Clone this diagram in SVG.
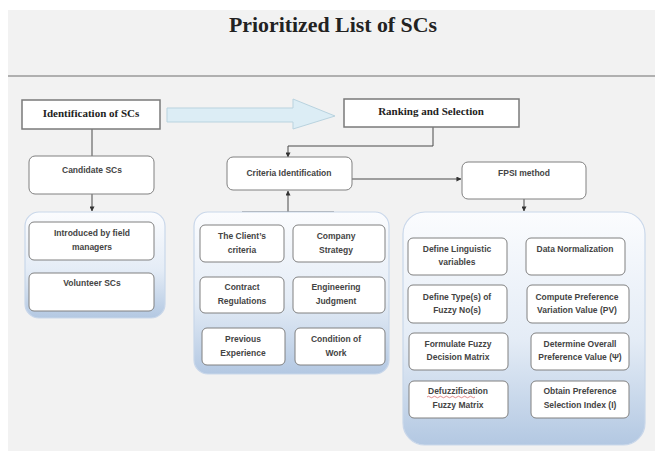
<svg xmlns="http://www.w3.org/2000/svg" width="655" height="455" viewBox="0 0 655 455">
<defs>
<linearGradient id="cg" x1="0" y1="0" x2="0" y2="1">
<stop offset="0" stop-color="#fbfcfe"/>
<stop offset="0.55" stop-color="#e4ecf6"/>
<stop offset="1" stop-color="#b3c8e2"/>
</linearGradient>
<marker id="ah" viewBox="0 0 6 6" refX="5.5" refY="3" markerWidth="5" markerHeight="5" orient="auto" markerUnits="userSpaceOnUse">
<path d="M0,0 L6,3 L0,6 z" fill="#333"/>
</marker>
<style>
.bg{fill:#f2f2f2}
.sq{fill:#fff;stroke:#7a7a7a;stroke-width:1.5}
.rb{fill:#fff;stroke:#808080;stroke-width:1}
.ct{fill:url(#cg);stroke:#c9d7ea;stroke-width:1.2}
.ln{fill:none;stroke:#4a4a4a;stroke-width:1}
.ar{fill:none;stroke:#4a4a4a;stroke-width:1;marker-end:url(#ah)}
.st{font-family:"Liberation Serif","Times New Roman",serif;font-weight:bold;fill:#222;text-anchor:middle}
.bt{font-family:"Liberation Sans",Arial,sans-serif;font-weight:bold;font-size:8.5px;fill:#444;text-anchor:middle}
</style>
</defs>
<rect x="0" y="0" width="655" height="455" fill="#ffffff"/>
<rect class="bg" x="8" y="10" width="647" height="441"/>
<line x1="8" y1="76" x2="655" y2="76" stroke="#9a9a9a" stroke-width="1.5"/>
<text class="st" x="333" y="32" font-size="20" textLength="208" lengthAdjust="spacingAndGlyphs">Prioritized List of SCs</text>

<g id="connectors">
<path d="M167,108 L293,108 L293,99 L335,116 L293,129 L293,122 L167,122 Z" fill="#dcedf5" stroke="#b9d3df" stroke-width="1"/>
<line class="ln" x1="92" y1="129" x2="92" y2="156"/>
<line class="ar" x1="92" y1="194" x2="92" y2="211"/>
<line class="ln" x1="92" y1="260" x2="92" y2="273"/>
<polyline class="ar" points="433,127 433,146 288,146 288,157"/>
<line class="ar" x1="352" y1="179" x2="461" y2="179"/>
<line class="ar" x1="524" y1="199" x2="524" y2="211"/>
<line class="ar" x1="288" y1="212" x2="288" y2="191"/>
<polyline class="ln" points="242,225 242,212 334,212 334,225"/>
<line class="ln" x1="242" y1="262" x2="242" y2="277"/>
<line class="ln" x1="334" y1="262" x2="334" y2="277"/>
<line class="ln" x1="244" y1="313" x2="244" y2="328"/>
<line class="ln" x1="334" y1="313" x2="334" y2="328"/>
<line class="ar" x1="457" y1="275" x2="457" y2="285"/>
<line class="ar" x1="457" y1="323" x2="457" y2="333"/>
<line class="ar" x1="457" y1="370" x2="457" y2="381"/>
<polyline class="ar" points="457,418 457,428 517,428 517,229 573,229 573,238"/>
<line class="ar" x1="577" y1="275" x2="577" y2="285"/>
<line class="ar" x1="577" y1="323" x2="577" y2="333"/>
<line class="ar" x1="580" y1="370" x2="580" y2="381"/>
</g>

<g id="identification">
<rect class="sq" x="22" y="100" width="138" height="29"/>
<text class="st" x="91" y="117" font-size="11">Identification of SCs</text>
</g>
<g id="ranking">
<rect class="sq" x="344" y="99" width="175" height="28"/>
<text class="st" x="431" y="115" font-size="11">Ranking and Selection</text>
</g>
<g id="candidate">
<rect class="rb" x="29" y="156" width="125" height="38" rx="6"/>
<text class="bt" x="92" y="173">Candidate SCs</text>
</g>
<g id="criteria">
<rect class="rb" x="227" y="157" width="125" height="33" rx="6"/>
<text class="bt" x="289" y="176">Criteria Identification</text>
</g>
<g id="fpsi">
<rect class="rb" x="462" y="162" width="124" height="37" rx="6"/>
<text class="bt" x="524" y="176">FPSI method</text>
</g>

<g id="left-container">
<rect class="ct" x="25" y="212" width="140" height="106" rx="14"/>
</g>
<g id="introduced">
<rect class="rb" x="29" y="222" width="125" height="38" rx="5"/>
<text class="bt" x="92" y="236">Introduced by field</text>
<text class="bt" x="92" y="250">managers</text>
</g>
<g id="volunteer">
<rect class="rb" x="29" y="273" width="125" height="38" rx="5"/>
<text class="bt" x="92" y="286">Volunteer SCs</text>
</g>

<g id="middle-container">
<rect class="ct" x="194" y="212" width="195" height="162" rx="14"/>
</g>
<g id="clients-criteria">
<rect class="rb" x="200" y="225" width="84" height="37" rx="5"/>
<text class="bt" x="242" y="239">The Client’s</text>
<text class="bt" x="242" y="253">criteria</text>
</g>
<g id="company-strategy">
<rect class="rb" x="293" y="225" width="92" height="37" rx="5"/>
<text class="bt" x="336" y="239">Company</text>
<text class="bt" x="336" y="253">Strategy</text>
</g>
<g id="contract-regulations">
<rect class="rb" x="200" y="277" width="84" height="36" rx="5"/>
<text class="bt" x="242" y="290">Contract</text>
<text class="bt" x="242" y="304">Regulations</text>
</g>
<g id="engineering-judgment">
<rect class="rb" x="293" y="277" width="92" height="36" rx="5"/>
<text class="bt" x="336" y="290">Engineering</text>
<text class="bt" x="336" y="304">Judgment</text>
</g>
<g id="previous-experience">
<rect class="rb" x="202" y="328" width="83" height="37" rx="5"/>
<text class="bt" x="243" y="342">Previous</text>
<text class="bt" x="243" y="356">Experience</text>
</g>
<g id="condition-of-work">
<rect class="rb" x="295" y="328" width="90" height="37" rx="5"/>
<text class="bt" x="336" y="342">Condition of</text>
<text class="bt" x="336" y="356">Work</text>
</g>

<g id="right-container">
<rect class="ct" x="403" y="212" width="242" height="233" rx="22"/>
</g>
<g id="define-linguistic">
<rect class="rb" x="408" y="238" width="99" height="37" rx="5"/>
<text class="bt" x="457" y="252">Define Linguistic</text>
<text class="bt" x="457" y="265">variables</text>
</g>
<g id="define-type">
<rect class="rb" x="408" y="285" width="99" height="38" rx="5"/>
<text class="bt" x="457" y="300">Define Type(s) of</text>
<text class="bt" x="457" y="313">Fuzzy No(s)</text>
</g>
<g id="formulate">
<rect class="rb" x="409" y="333" width="99" height="37" rx="5"/>
<text class="bt" x="458" y="347">Formulate Fuzzy</text>
<text class="bt" x="458" y="360">Decision Matrix</text>
</g>
<g id="defuzzification">
<rect class="rb" x="409" y="381" width="99" height="37" rx="5"/>
<text class="bt" x="458" y="394">Defuzzification</text>
<path d="M427,397 q1.5,-1.5 3,0 t3,0 t3,0 t3,0 t3,0 t3,0 t3,0 t3,0 t3,0 t3,0 t3,0 t3,0 t3,0 t3,0 t3,0 t3,0" fill="none" stroke="#d04040" stroke-width="0.6"/>
<text class="bt" x="458" y="408">Fuzzy Matrix</text>
</g>
<g id="data-normalization">
<rect class="rb" x="526" y="238" width="99" height="37" rx="5"/>
<text class="bt" x="575" y="252">Data Normalization</text>
</g>
<g id="compute-pv">
<rect class="rb" x="527" y="285" width="102" height="38" rx="5"/>
<text class="bt" x="577" y="300">Compute Preference</text>
<text class="bt" x="577" y="313">Variation Value (PV)</text>
</g>
<g id="determine-overall">
<rect class="rb" x="531" y="333" width="98" height="37" rx="5"/>
<text class="bt" x="580" y="347">Determine Overall</text>
<text class="bt" x="580" y="360">Preference Value (Ψ)</text>
</g>
<g id="obtain-psi">
<rect class="rb" x="531" y="381" width="98" height="37" rx="5"/>
<text class="bt" x="580" y="394">Obtain Preference</text>
<text class="bt" x="580" y="408">Selection Index (I)</text>
</g>
</svg>
